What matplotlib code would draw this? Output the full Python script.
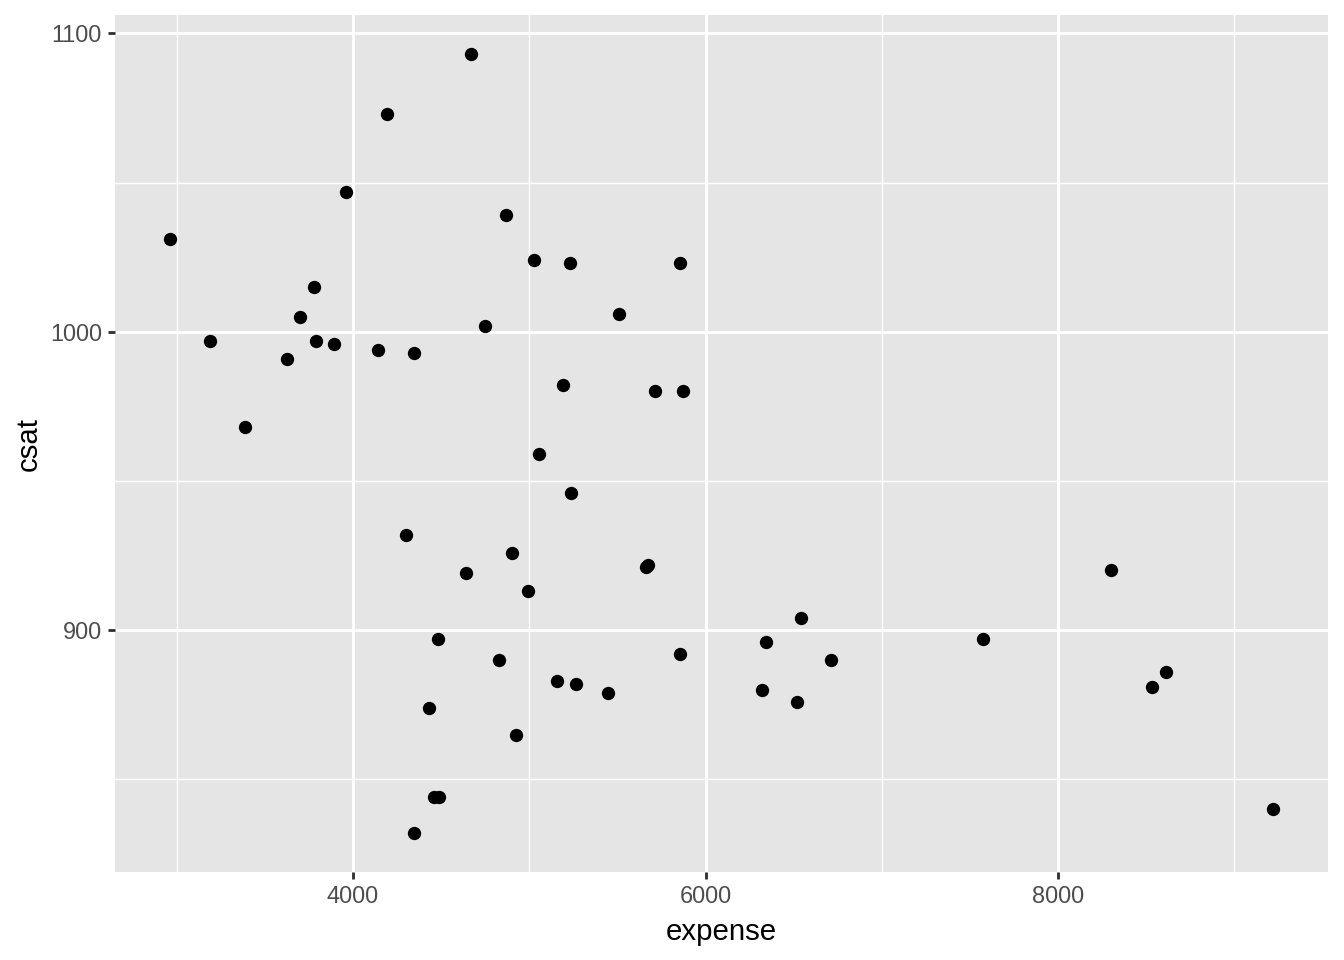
import matplotlib
matplotlib.use("Agg")
import matplotlib.pyplot as plt
from matplotlib.ticker import MultipleLocator

plt.rcParams['font.family'] = ['Liberation Sans', 'DejaVu Sans']

# expense vs csat
expense = [2963, 3190, 3388, 3626, 3700, 3779, 3790, 3892, 3960, 4142,
           4193, 4346, 4300, 4346, 4431, 4459, 4487, 4482, 4640, 4669,
           4748, 4827, 4867, 4901, 4924, 4992, 5025, 5054, 5156, 5190,
           5229, 5235, 5263, 5445, 5507, 5660, 5671, 5711, 5853, 5858,
           5870, 6323, 6346, 6521, 6544, 6714, 7575, 8300, 8533, 8612,
           9218]
csat = [1031, 997, 968, 991, 1005, 1015, 997, 996, 1047, 994,
        1073, 993, 932, 832, 874, 844, 844, 897, 919, 1093,
        1002, 890, 1039, 926, 865, 913, 1024, 959, 883, 982,
        1023, 946, 882, 879, 1006, 921, 922, 980, 892, 1023,
        980, 880, 896, 876, 904, 890, 897, 920, 881, 886,
        840]

fig = plt.figure(figsize=(7, 5), dpi=192)
ax = fig.add_axes([0.0856, 0.0917, 0.988 - 0.0856, 0.984 - 0.0917])
ax.set_facecolor('#E5E5E5')

ax.scatter(expense, csat, s=25, color='black', linewidths=0, zorder=3)

xr = max(expense) - min(expense)
yr = max(csat) - min(csat)
ax.set_xlim(min(expense) - 0.05 * xr, max(expense) + 0.05 * xr)
ax.set_ylim(min(csat) - 0.05 * yr, max(csat) + 0.05 * yr)

ax.xaxis.set_major_locator(MultipleLocator(2000))
ax.xaxis.set_minor_locator(MultipleLocator(1000))
ax.yaxis.set_major_locator(MultipleLocator(100))
ax.yaxis.set_minor_locator(MultipleLocator(50))

ax.grid(which='major', color='white', linewidth=1.07)
ax.grid(which='minor', color='white', linewidth=0.53)
ax.set_axisbelow(True)
for s in ax.spines.values():
    s.set_visible(False)

ax.tick_params(which='major', length=2.75, width=1.07, color='#333333',
               labelcolor='#4D4D4D', labelsize=8.8, pad=2.2)
ax.tick_params(which='minor', length=0)

ax.set_xlabel('expense', fontsize=11, labelpad=3.5)
ax.set_ylabel('csat', fontsize=11, labelpad=2.75)

fig.savefig('out.png', dpi=192)
